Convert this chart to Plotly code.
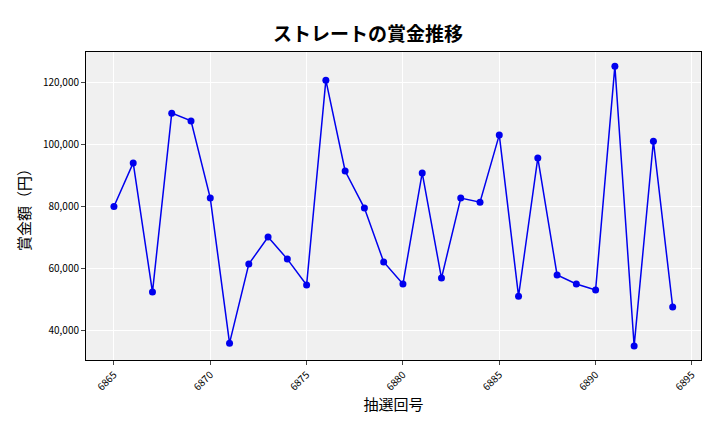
import plotly.graph_objects as go

draws = list(range(6865, 6895))
prizes = [80000, 94000, 52500, 110000, 107500, 82700, 36100, 61500, 70200, 63100,
          54800, 120600, 91400, 79500, 62200, 55100, 90800, 57000, 82700, 81400,
          103000, 51200, 95600, 58000, 55100, 53200, 125100, 35200, 101000, 47700]

FONT = "Noto Sans CJK JP"

fig = go.Figure()
fig.add_trace(go.Scatter(x=draws, y=prizes, mode='lines+markers',
                         line=dict(color='#0000ee', width=1.5),
                         marker=dict(color='#0000ee', size=7)))
fig.update_layout(
    width=720, height=432,
    margin=dict(l=78, r=27, t=44, b=80),
    paper_bgcolor='white', plot_bgcolor='#f0f0f0',
    showlegend=False,
    font=dict(family=FONT, color='black'),
    title=dict(text='<b>ストレートの賞金推移</b>', x=0.5, xanchor='center', y=0.955,
               font=dict(size=19, family=FONT)),
)
fig.update_xaxes(range=[6863.55, 6895.47], tickvals=list(range(6865, 6896, 5)),
                 tickangle=-45, tickfont=dict(size=10), ticks='outside', ticklen=4,
                 showgrid=True, gridcolor='white', zeroline=False,
                 showline=True, linecolor='black', mirror=True,
                 title=dict(text='抽選回号', font=dict(size=15), standoff=6))
fig.update_yaxes(range=[30680, 129640], tickvals=[40000, 60000, 80000, 100000, 120000],
                 tickformat=',', tickfont=dict(size=10), ticks='outside', ticklen=4,
                 showgrid=True, gridcolor='white', zeroline=False,
                 showline=True, linecolor='black', mirror=True,
                 title=dict(text='賞金額（円）', font=dict(size=15), standoff=8))
fig.write_html("out.html")
